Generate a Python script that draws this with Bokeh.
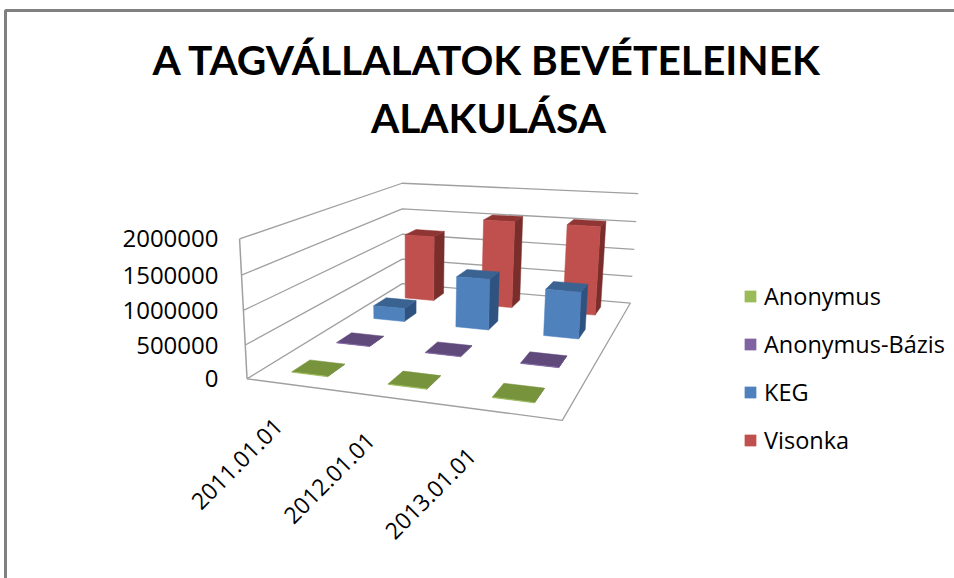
import numpy as np
from bokeh.plotting import figure
from bokeh.models import Range1d, Legend, LegendItem
from bokeh.core.properties import value
from bokeh.embed import file_html
from bokeh.resources import INLINE

title_lines = ["A TAGVÁLLALATOK BEVÉTELEINEK", "ALAKULÁSA"]
categories = ["2011.01.01", "2012.01.01", "2013.01.01"]
series_names = ["Anonymus", "Anonymus-Bázis", "KEG", "Visonka"]
anonymus = [8000, 8000, 8000]
anonymus_bazis = [6000, 6000, 6000]
keg = [230000, 860000, 770000]
visonka = [1200000, 1560000, 1560000]
value_ticks = [0, 500000, 1000000, 1500000, 2000000]
front_colors = ["#9BBB59", "#8064A2", "#4F81BD", "#C0504D"]
top_colors = ["#77933C", "#604A7B", "#3A6391", "#8F3533"]
side_colors = ["#5F7530", "#4D3B62", "#2F5380", "#7A2E2C"]

all_series = [anonymus, anonymus_bazis, keg, visonka]
VMAX = max(value_ticks)
NC, NS = len(categories), len(series_names)

# camera: fitted to the corners of the plot box (u along categories, w along series, h along value)
world = [(0, 0, 0), (0, NS, 0), (NC, NS, 0), (NC, 0, 0), (0, 0, 1), (0, NS, 1), (NC, NS, 1)]
screen = [(246.7, 378.3), (401.7, 283.3), (630, 302.3), (561.7, 420), (239, 238.3), (401.7, 182.7), (637.7, 193.3)]
A = []
for (u, w, h), (sx, sy) in zip(world, screen):
    A.append([u, w, h, 1, 0, 0, 0, 0, -sx * u, -sx * w, -sx * h, -sx])
    A.append([0, 0, 0, 0, u, w, h, 1, -sy * u, -sy * w, -sy * h, -sy])
P = np.linalg.svd(np.array(A, float))[2][-1].reshape(3, 4)


def proj(u, w, v):
    q = P @ np.array([u, w, v / VMAX, 1.0])
    return float(q[0] / q[2]), float(q[1] / q[2])


BW, BD = 0.38, 0.38

p = figure(width=954, height=578, x_range=Range1d(0, 954), y_range=Range1d(578, 0),
           toolbar_location=None, output_backend="svg", min_border=0, outline_line_color=None)
p.axis.visible = False
p.grid.visible = False

# page frame
p.line([5, 5, 954], [578, 10, 10], line_color="#808080", line_width=3)

# walls and floor
GRID = "#A0A0A0"
for v in value_ticks:
    pts = [proj(0, 0, v), proj(0, NS, v), proj(NC, NS, v)]
    p.line([a[0] for a in pts], [a[1] for a in pts], line_color=GRID, line_width=1.3)
pts = [proj(0, 0, 0), proj(0, 0, VMAX)]
p.line([a[0] for a in pts], [a[1] for a in pts], line_color=GRID, line_width=1.5)
pts = [proj(0, 0, 0), proj(NC, 0, 0), proj(NC, NS, 0)]
p.line([a[0] for a in pts], [a[1] for a in pts], line_color=GRID, line_width=1.3)

# bars, back series first
legend_rs = {}
for j in reversed(range(NS)):
    tops, sides, fronts = ([], []), ([], []), ([], [])
    for i, v in enumerate(all_series[j]):
        u0, u1 = i + .5 - BW / 2, i + .5 + BW / 2
        w0, w1 = j + .5 - BD / 2, j + .5 + BD / 2
        faces = [
            (tops, [(u0, w0, v), (u1, w0, v), (u1, w1, v), (u0, w1, v)]),
            (sides, [(u1, w0, 0), (u1, w1, 0), (u1, w1, v), (u1, w0, v)]),
            (fronts, [(u0, w0, 0), (u1, w0, 0), (u1, w0, v), (u0, w0, v)]),
        ]
        for store, corners in faces:
            q = [proj(*c) for c in corners]
            store[0].append([a[0] for a in q])
            store[1].append([a[1] for a in q])
    p.patches(sides[0], sides[1], fill_color=side_colors[j], line_color=side_colors[j], line_width=.5)
    p.patches(tops[0], tops[1], fill_color=top_colors[j], line_color=top_colors[j], line_width=.5)
    legend_rs[j] = p.patches(fronts[0], fronts[1], fill_color=front_colors[j], line_color=front_colors[j], line_width=.5)

# title
FONT = value("Open Sans")
TF = value("Lato")
p.text([487], [59], text=[title_lines[0]], text_font=TF, text_font_style="bold", text_font_size="40.7px",
       text_align="center", text_baseline="middle", text_color="#000000")
p.text([488], [117], text=[title_lines[1]], text_font=TF, text_font_style="bold", text_font_size="40.7px",
       text_align="center", text_baseline="middle", text_color="#000000")

# value labels
ys = [proj(0, 0, v)[1] for v in value_ticks]
p.text([218] * len(ys), ys, text=[str(v) for v in value_ticks], text_font=FONT, text_font_size="24px",
       text_align="right", text_baseline="middle", text_color="#000000")

# category labels
cx, cy = [], []
for i in range(NC):
    fx, fy = proj(i + .5, 0, 0)
    cx.append(fx - 16 - 8 * i)
    cy.append(fy + 37 + i)
p.text(cx, cy, text=categories, angle=np.pi / 4, text_font=FONT, text_font_size="23px",
       text_align="right", text_baseline="middle", text_color="#000000")

legend = Legend(items=[LegendItem(label=series_names[j], renderers=[legend_rs[j]]) for j in range(NS)],
                location=(743, 122), orientation="vertical", padding=0, margin=0, spacing=16,
                glyph_width=14, glyph_height=14, label_standoff=7,
                label_text_font="Open Sans", label_text_font_size="23.5px", label_text_color="#000000",
                border_line_color=None, background_fill_color=None, background_fill_alpha=0)
p.add_layout(legend, "center")

open("out.html", "w").write(file_html(p, INLINE))
